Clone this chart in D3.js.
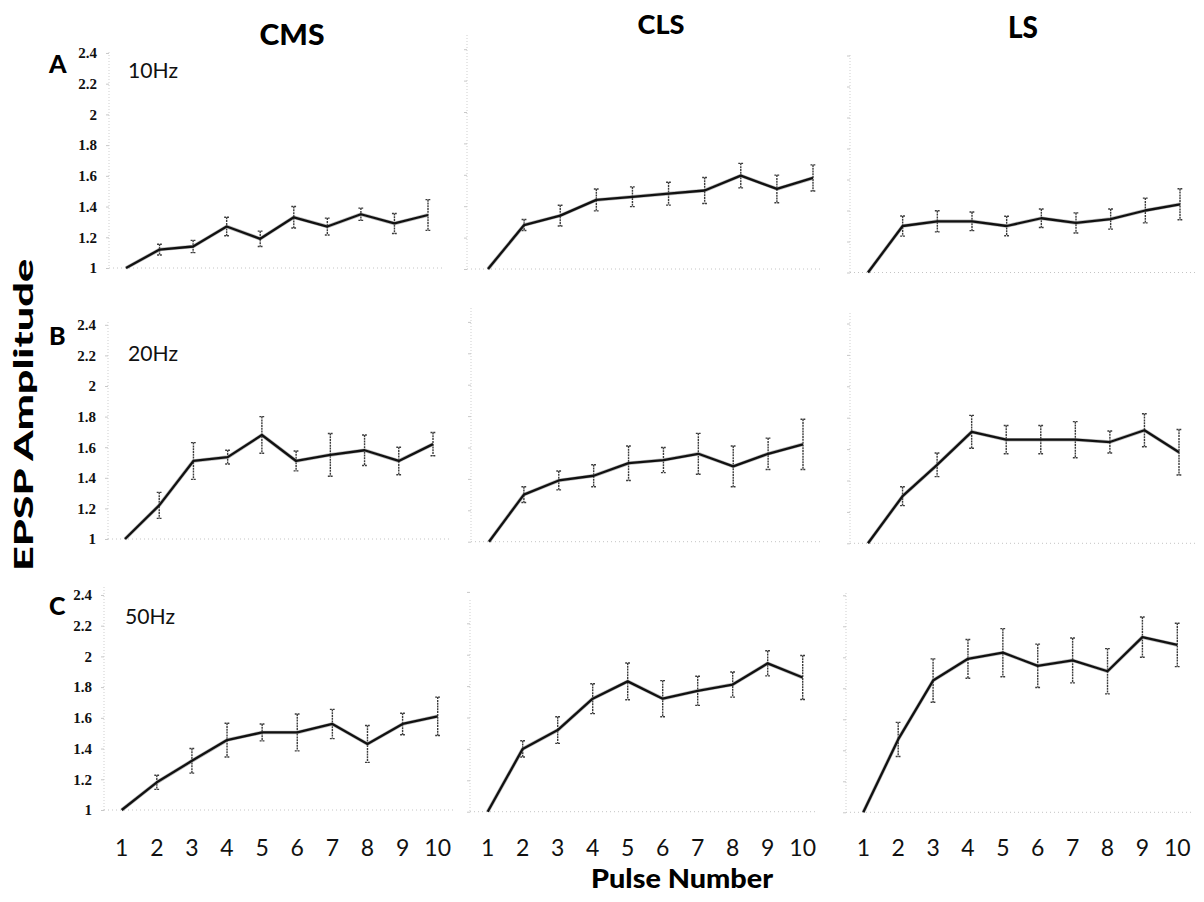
<!DOCTYPE html>
<html>
<head>
<meta charset="utf-8">
<script src="https://cdn.jsdelivr.net/npm/d3@7"></script>
<style>
  body { margin: 0; background: #fff; }
  svg { display: block; }
</style>
</head>
<body>
<svg id="chart" width="1204" height="902"></svg>
<script>
// ---- data ----
const pulses = [1, 2, 3, 4, 5, 6, 7, 8, 9, 10];
const pulseLabels = ["1", "2", "3", "4", "5", "6", "7", "8", "9", "10"];
const yTicks = [1, 1.2, 1.4, 1.6, 1.8, 2, 2.2, 2.4];
const yTickLabels = ["1", "1.2", "1.4", "1.6", "1.8", "2", "2.2", "2.4"];
const regions = ["CMS", "CLS", "LS"];
const rowLetters = ["A", "B", "C"];
const frequencies = ["10Hz", "20Hz", "50Hz"];

// EPSP amplitude normalised to the first pulse (mean and s.e.m.)
const cms10    = [1.00, 1.12, 1.14, 1.27, 1.19, 1.33, 1.27, 1.35, 1.29, 1.345];
const cms10Err = [0, 0.035, 0.04, 0.06, 0.05, 0.07, 0.055, 0.04, 0.065, 0.10];
const cls10    = [1.00, 1.28, 1.34, 1.44, 1.46, 1.48, 1.50, 1.595, 1.51, 1.58];
const cls10Err = [0, 0.035, 0.066, 0.07, 0.063, 0.073, 0.083, 0.078, 0.088, 0.083];
const ls10     = [1.00, 1.30, 1.33, 1.33, 1.30, 1.35, 1.32, 1.345, 1.40, 1.44];
const ls10Err  = [0, 0.065, 0.068, 0.06, 0.063, 0.06, 0.065, 0.065, 0.08, 0.10];

const cms20    = [1.00, 1.22, 1.51, 1.535, 1.68, 1.51, 1.55, 1.58, 1.51, 1.62];
const cms20Err = [0, 0.085, 0.12, 0.045, 0.12, 0.065, 0.14, 0.10, 0.09, 0.076];
const cls20    = [1.00, 1.30, 1.39, 1.42, 1.50, 1.52, 1.56, 1.48, 1.56, 1.62];
const cls20Err = [0, 0.05, 0.06, 0.07, 0.11, 0.08, 0.13, 0.13, 0.10, 0.16];
const ls20     = [1.00, 1.30, 1.50, 1.71, 1.66, 1.66, 1.66, 1.645, 1.72, 1.58];
const ls20Err  = [0, 0.06, 0.075, 0.105, 0.09, 0.09, 0.115, 0.07, 0.105, 0.145];

const cms50    = [1.00, 1.18, 1.32, 1.455, 1.505, 1.505, 1.56, 1.43, 1.56, 1.61];
const cms50Err = [0, 0.046, 0.08, 0.11, 0.055, 0.12, 0.095, 0.12, 0.07, 0.125];
const cls50    = [1.00, 1.40, 1.52, 1.72, 1.83, 1.72, 1.77, 1.81, 1.945, 1.855];
const cls50Err = [0, 0.052, 0.085, 0.095, 0.117, 0.115, 0.093, 0.08, 0.08, 0.14];
const ls50     = [1.00, 1.47, 1.85, 1.99, 2.03, 1.945, 1.98, 1.91, 2.13, 2.08];
const ls50Err  = [0, 0.11, 0.14, 0.125, 0.155, 0.14, 0.145, 0.146, 0.13, 0.14];

const seriesGrid = [
  [[cms10, cms10Err], [cls10, cls10Err], [ls10, ls10Err]],
  [[cms20, cms20Err], [cls20, cls20Err], [ls20, ls20Err]],
  [[cms50, cms50Err], [cls50, cls50Err], [ls50, ls50Err]]
];

// ---- layout of the nine panels (pixel geometry) ----
// x1/x10: positions of pulse 1 and 10; yBase: position of 1.0; unit: px per unit amplitude
// ax: vertical axis x; axTop: top of the dotted axis; axRight: end of the dotted baseline
const panelGeom = [
  [
    { x1: 126,   x10: 428,    yBase: 268,   unit: 153.6, ax: 109, axTop: 52,  axRight: 445 },
    { x1: 488,   x10: 813,    yBase: 269,   unit: 157,   ax: 467, axTop: 35,  axRight: 822 },
    { x1: 868,   x10: 1180,   yBase: 272.5, unit: 155,   ax: 850, axTop: 55,  axRight: 1197 }
  ],
  [
    { x1: 125,   x10: 433,    yBase: 539,   unit: 153,   ax: 108, axTop: 322, axRight: 450 },
    { x1: 489,   x10: 803,    yBase: 541.7, unit: 157,   ax: 471, axTop: 308, axRight: 820 },
    { x1: 868,   x10: 1179,   yBase: 543.3, unit: 157,   ax: 850, axTop: 313, axRight: 1197 }
  ],
  [
    { x1: 121.7, x10: 437.7,  yBase: 810,   unit: 153.6, ax: 104, axTop: 587, axRight: 456 },
    { x1: 487.7, x10: 802.7,  yBase: 811.7, unit: 157,   ax: 470, axTop: 600, axRight: 818 },
    { x1: 863.3, x10: 1177.3, yBase: 812.3, unit: 155,   ax: 846, axTop: 593, axRight: 1192 }
  ]
];

const svg = d3.select("#chart");
const sansFont = "Lato, 'Open Sans', 'DejaVu Sans', sans-serif";
const tickFont = "'Liberation Serif', 'DejaVu Serif', serif";

seriesGrid.forEach((row, r) => {
  row.forEach(([vals, errs], c) => {
    const g = panelGeom[r][c];
    const x = d3.scaleLinear().domain([1, 10]).range([g.x1, g.x10]);
    const y = d3.scaleLinear().domain([1, 2.4]).range([g.yBase, g.yBase - 1.4 * g.unit]);
    const panel = svg.append("g").attr("class", "panel");

    // dotted axes
    panel.append("line")
      .attr("x1", g.ax).attr("x2", g.ax).attr("y1", g.axTop).attr("y2", g.yBase)
      .attr("stroke", "#cfcfcf").attr("stroke-width", 1).attr("stroke-dasharray", "1,2");
    panel.append("line")
      .attr("x1", g.ax).attr("x2", g.axRight).attr("y1", g.yBase).attr("y2", g.yBase)
      .attr("stroke", "#c4c4c4").attr("stroke-width", 1).attr("stroke-dasharray", "1,3");

    // y ticks (labels only on the left-hand column)
    const yAxis = d3.axisLeft(y).tickValues(yTicks).tickSize(3).tickPadding(9)
      .tickFormat((d, i) => c === 0 ? yTickLabels[i] : "");
    const ya = panel.append("g").attr("transform", `translate(${g.ax},0)`).call(yAxis);
    ya.select(".domain").remove();
    ya.selectAll(".tick line").attr("stroke", "#c8c8c8");
    ya.selectAll(".tick text")
      .attr("font-family", tickFont).attr("font-weight", "bold")
      .attr("font-size", 15).attr("fill", "#111");

    // error bars
    const eb = panel.append("g").attr("class", "errorbars");
    pulses.forEach((p, i) => {
      if (!errs[i]) return;
      const cx = x(p), yt = y(vals[i] + errs[i]), yb = y(vals[i] - errs[i]);
      eb.append("line").attr("x1", cx).attr("x2", cx).attr("y1", yt).attr("y2", yb);
      eb.append("line").attr("x1", cx - 2.5).attr("x2", cx + 2.5).attr("y1", yt).attr("y2", yt);
      eb.append("line").attr("x1", cx - 2.5).attr("x2", cx + 2.5).attr("y1", yb).attr("y2", yb);
    });
    eb.selectAll("line").attr("stroke", "#3c3c3c").attr("stroke-width", 1.4)
      .attr("stroke-dasharray", "2,0.8");

    // mean trace
    const line = d3.line().x((d, i) => x(pulses[i])).y(d => y(d));
    panel.append("path").datum(vals)
      .attr("d", line).attr("fill", "none")
      .attr("stroke", "#8a8a8a").attr("stroke-width", 3.6).attr("stroke-linejoin", "round")
      .attr("opacity", 0.6);
    panel.append("path").datum(vals)
      .attr("d", line).attr("fill", "none")
      .attr("stroke", "#111").attr("stroke-width", 2.3).attr("stroke-linejoin", "round");

    // pulse-number labels under the bottom row
    if (r === 2) {
      panel.append("g").selectAll("text").data(pulses).join("text")
        .attr("x", p => x(p)).attr("y", 856)
        .attr("text-anchor", "middle")
        .attr("font-family", sansFont).attr("font-size", 23).attr("fill", "#111")
        .text((p, i) => pulseLabels[i]);
    }
  });
});

// column titles
const titleSpec = [
  { x: 292, y: 45, size: 28, len: 65 },
  { x: 661, y: 34, size: 27, len: 47 },
  { x: 1023, y: 38, size: 31, len: 30 }
];
regions.forEach((name, i) => {
  const t = titleSpec[i];
  svg.append("text").attr("x", t.x).attr("y", t.y)
    .attr("text-anchor", "middle")
    .attr("font-family", sansFont).attr("font-weight", 900).attr("font-size", t.size)
    .attr("textLength", t.len).attr("lengthAdjust", "spacingAndGlyphs")
    .attr("fill", "#000").text(name);
});

// row letters and stimulation frequencies
const rowBase = [73, 345, 615];
const freqBase = [78, 361, 624];
const freqX = [128, 128, 125];
rowLetters.forEach((L, i) => {
  svg.append("text").attr("x", 49).attr("y", rowBase[i])
    .attr("font-family", sansFont).attr("font-weight", 900).attr("font-size", 25)
    .attr("fill", "#000").text(L);
  svg.append("text").attr("x", freqX[i]).attr("y", freqBase[i])
    .attr("font-family", sansFont).attr("font-size", 21)
    .attr("textLength", 50).attr("lengthAdjust", "spacingAndGlyphs")
    .attr("fill", "#111").text(frequencies[i]);
});

// shared axis titles
svg.append("text")
  .attr("transform", "translate(33,415) rotate(-90)")
  .attr("text-anchor", "middle")
  .attr("font-family", sansFont).attr("font-weight", 900).attr("font-size", 27)
  .attr("textLength", 312).attr("lengthAdjust", "spacingAndGlyphs")
  .attr("fill", "#000").text("EPSP Amplitude");

svg.append("text").attr("x", 682).attr("y", 888)
  .attr("text-anchor", "middle")
  .attr("font-family", sansFont).attr("font-weight", 900).attr("font-size", 26)
  .attr("textLength", 182).attr("lengthAdjust", "spacingAndGlyphs")
  .attr("fill", "#000").text("Pulse Number");
</script>
</body>
</html>
